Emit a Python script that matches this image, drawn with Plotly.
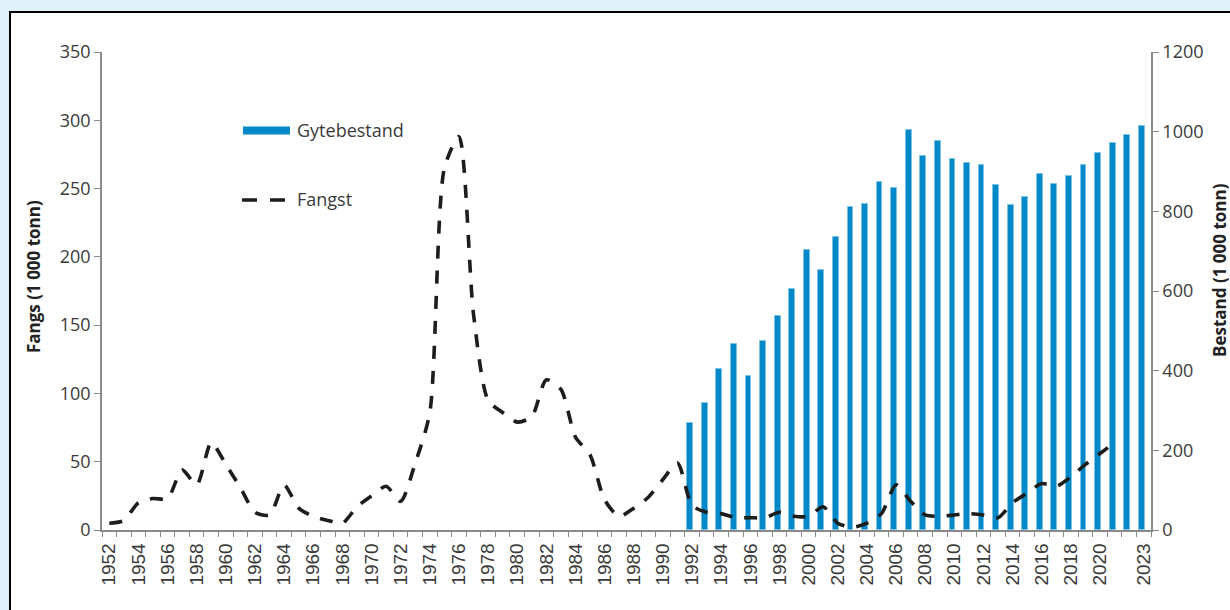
import plotly.graph_objects as go

years = list(range(1952, 2024))

fangst_years = list(range(1952, 2022))
fangst = [5, 7, 20, 23, 23, 44, 33, 64, 48, 31,
          13, 11, 33, 16, 10, 7, 5, 17, 25, 32,
          21, 49, 86, 265, 288, 158, 95, 86, 79, 83,
          110, 103, 68, 55, 22, 10, 16, 24, 37, 49,
          18, 13, 12, 9, 9, 9, 13, 10, 10, 17,
          5, 2, 5, 12, 33, 21, 11, 10, 11, 12,
          11, 9, 20, 27, 34, 32, 39, 48, 56, 64]

bestand_years = list(range(1992, 2024))
bestand = [269, 320, 405, 466, 386, 475, 537, 605, 702, 652,
           736, 812, 818, 873, 859, 1003, 940, 977, 931, 921,
           916, 866, 815, 836, 893, 868, 889, 916, 947, 972,
           992, 1014]

tick_years = list(range(1952, 2021, 2)) + [2023]
tick_text = [str(y) for y in tick_years]

BLUE = "#0088c9"
TXT = "#3a3a3a"
AXC = "#8a8a8a"

fig = go.Figure()

fig.add_trace(go.Bar(
    x=bestand_years, y=bestand, name="Gytebestand",
    marker=dict(color=BLUE, line=dict(color="#7cc3e6", width=1)),
    width=0.4, offset=-0.33, yaxis="y", showlegend=False,
))

fig.add_trace(go.Scatter(
    x=fangst_years, y=fangst, name="Fangst", mode="lines",
    line=dict(color="#1d1d1b", width=3.6, dash="13px,12px", shape="spline", smoothing=0.7),
    yaxis="y2", showlegend=False,
))

# helpers: screen pixel -> paper coordinate (plot area 102..1151 x 52..530)
def px_x(p):
    return (p - 102) / 1049

def px_y(p):
    return (530 - p) / 478

shapes = [
    dict(type="rect", xref="paper", yref="paper",
         x0=px_x(10), x1=px_x(1260), y0=px_y(640), y1=px_y(12),
         line=dict(color="black", width=2), fillcolor="white", layer="below"),
    dict(type="rect", xref="paper", yref="paper",
         x0=px_x(243), x1=px_x(290), y0=px_y(134.5), y1=px_y(126.5),
         line=dict(width=0), fillcolor=BLUE),
    dict(type="line", xref="paper", yref="paper",
         x0=px_x(242), x1=px_x(286), y0=px_y(200), y1=px_y(200),
         line=dict(color="#1d1d1b", width=3.6, dash="15px,13px")),
]

annotations = [
    dict(text="Gytebestand", xref="paper", yref="paper", x=px_x(295), y=px_y(130),
         xanchor="left", yanchor="middle", showarrow=False,
         font=dict(family="Open Sans", size=18, color=TXT)),
    dict(text="Fangst", xref="paper", yref="paper", x=px_x(295), y=px_y(199),
         xanchor="left", yanchor="middle", showarrow=False,
         font=dict(family="Open Sans", size=18, color=TXT)),
    dict(text="<b>Fangs (1 000 tonn)</b>", xref="paper", yref="paper", x=px_x(33), y=px_y(277),
         xanchor="center", yanchor="middle", textangle=-90, showarrow=False,
         font=dict(family="Open Sans", size=17, color="#222")),
    dict(text="<b>Bestand (1 000 tonn)</b>", xref="paper", yref="paper", x=px_x(1219), y=px_y(270),
         xanchor="center", yanchor="middle", textangle=-90, showarrow=False,
         font=dict(family="Open Sans", size=17, color="#222")),
]

fig.update_layout(
    width=1230, height=610,
    margin=dict(l=102, r=79, t=52, b=80),
    paper_bgcolor="#dff2fa", plot_bgcolor="white",
    shapes=shapes, annotations=annotations,
    showlegend=False, bargap=0,
    xaxis=dict(
        range=[1951.5, 2023.5], tickmode="array", tickvals=tick_years, ticktext=tick_text,
        tickangle=-90, ticks="outside", ticklen=4, tickcolor="rgba(0,0,0,0)",
        tickfont=dict(family="Liberation Sans", size=19, color=TXT),
        showline=True, linecolor=AXC, linewidth=1.5, showgrid=False, zeroline=False,
        minor=dict(tickmode="array", tickvals=[y - 0.5 for y in years] + [2023.5],
                   ticks="outside", ticklen=5, tickcolor=AXC, tickwidth=1.2, showgrid=False),
    ),
    yaxis=dict(
        range=[0, 1200], dtick=200, side="right", ticks="outside", ticklen=6,
        tickcolor=AXC, tickwidth=1.2, showline=True, linecolor=AXC, linewidth=1.5,
        showgrid=False, zeroline=False,
        tickfont=dict(family="Open Sans", size=18, color=TXT),
    ),
    yaxis2=dict(
        range=[0, 350], dtick=50, side="left", overlaying="y", anchor="x",
        ticks="outside", ticklen=6, tickcolor=AXC, tickwidth=1.2,
        showline=True, linecolor=AXC, linewidth=1.5, showgrid=False, zeroline=False,
        tickfont=dict(family="Open Sans", size=18, color=TXT),
    ),
)

fig.write_html(
    "out.html",
    config={"displayModeBar": False},
    post_script="document.body.style.margin='0';document.body.style.overflow='hidden';",
)
